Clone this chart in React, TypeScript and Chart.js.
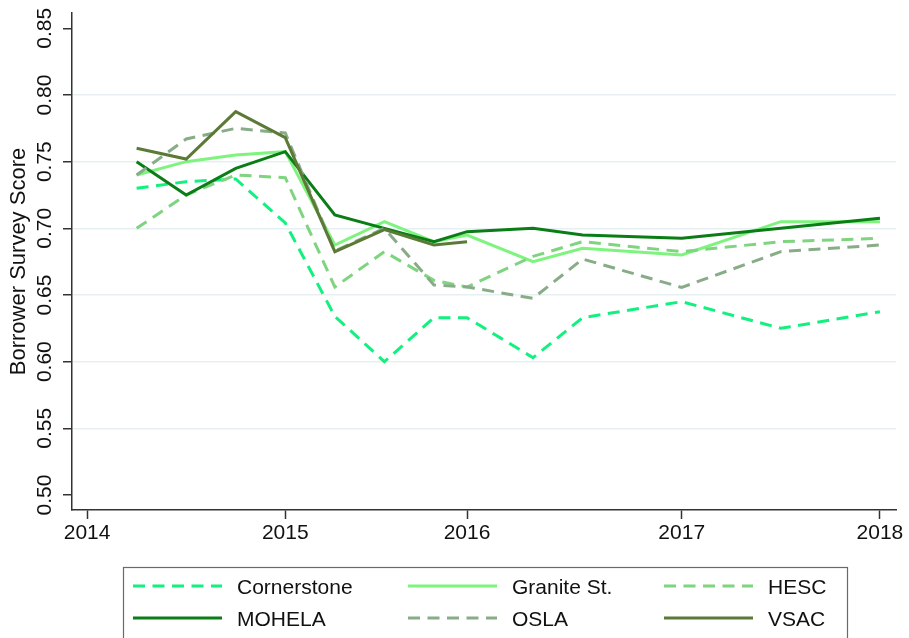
import React, { useEffect, useRef } from 'react';
import { Chart, registerables } from 'chart.js';

Chart.register(...registerables);

// ---- data ----
const xValues = [2014.25, 2014.5, 2014.75, 2015.0, 2015.25, 2015.5, 2015.75, 2015.917, 2016.25, 2016.5, 2017.0, 2017.5, 2018.0];
const xTickValues = [2014, 2015, 2015.917, 2017, 2018];
const xTickLabels = ['2014', '2015', '2016', '2017', '2018'];
const yTickValues = [0.5, 0.55, 0.6, 0.65, 0.7, 0.75, 0.8, 0.85];

const seriesLabels = ['Cornerstone', 'Granite St.', 'HESC', 'MOHELA', 'OSLA', 'VSAC'];
const cornerstone = [0.730, 0.735, 0.737, 0.704, 0.634, 0.600, 0.633, 0.633, 0.603, 0.633, 0.645, 0.625, 0.6375];
const graniteSt = [0.740, 0.750, 0.755, 0.7575, 0.6875, 0.705, 0.690, 0.695, 0.675, 0.685, 0.680, 0.705, 0.705];
const hesc = [0.700, 0.725, 0.740, 0.738, 0.656, 0.6825, 0.661, 0.656, 0.679, 0.690, 0.6825, 0.690, 0.6925];
const mohela = [0.750, 0.725, 0.745, 0.7575, 0.710, 0.700, 0.690, 0.6975, 0.700, 0.695, 0.6925, 0.700, 0.7075];
const osla = [0.740, 0.767, 0.775, 0.7715, 0.683, 0.700, 0.6575, 0.656, 0.6475, 0.677, 0.6557, 0.6825, 0.6875];
const vsac = [0.760, 0.752, 0.7875, 0.768, 0.6825, 0.699, 0.6875, 0.690, null, null, null, null, null];

const seriesValues = [cornerstone, graniteSt, hesc, mohela, osla, vsac];

// ---- styles ----
const seriesColors = ['#12F07F', '#7EF47E', '#7FD47F', '#0B7D16', '#88AC88', '#5B7A36'];
const seriesDashes: number[][] = [[12, 7.5], [], [12, 7.5], [], [12, 7.5], []];
const FONT = '"Liberation Sans", Arial, Helvetica, sans-serif';

const legendPlugin = {
  id: 'stataLegend',
  afterDraw(chart: any) {
    const ctx = chart.ctx as CanvasRenderingContext2D;
    ctx.save();
    ctx.strokeStyle = '#6a6a6a';
    ctx.lineWidth = 1.2;
    ctx.strokeRect(123.5, 567.5, 724, 100);
    const cols = [133, 408, 664];
    const rows = [586, 618];
    chart.data.datasets.forEach((ds: any, i: number) => {
      const cx = cols[i % 3];
      const cy = rows[Math.floor(i / 3)];
      ctx.beginPath();
      ctx.setLineDash(ds.borderDash || []);
      ctx.strokeStyle = ds.borderColor;
      ctx.lineWidth = 3;
      ctx.moveTo(cx, cy);
      ctx.lineTo(cx + 89, cy);
      ctx.stroke();
      ctx.setLineDash([]);
      ctx.fillStyle = '#111';
      ctx.font = '21px ' + FONT;
      ctx.textBaseline = 'middle';
      ctx.textAlign = 'left';
      ctx.fillText(ds.label, cx + 104, cy + 2.5);
    });
    ctx.restore();
  },
};

const bgPlugin = {
  id: 'bg',
  beforeDraw(chart: any) {
    const ctx = chart.ctx;
    ctx.save();
    ctx.fillStyle = '#ffffff';
    ctx.fillRect(0, 0, chart.width, chart.height);
    ctx.restore();
  },
};

export default function App() {
  const ref = useRef<HTMLCanvasElement | null>(null);

  useEffect(() => {
    if (!ref.current) return;
    const n = seriesLabels.length;
    const datasets = seriesLabels.map((label, i) => ({
      label,
      data: xValues.map((x, j) => ({ x, y: seriesValues[i][j] })),
      borderColor: seriesColors[i],
      backgroundColor: seriesColors[i],
      borderDash: seriesDashes[i],
      borderWidth: 3,
      pointRadius: 0,
      tension: 0,
      spanGaps: false,
      fill: false,
      order: n - 1 - i,
    }));

    const chart = new Chart(ref.current, {
      type: 'line',
      data: { datasets },
      plugins: [bgPlugin, legendPlugin],
      options: {
        animation: false,
        responsive: false,
        devicePixelRatio: 1,
        layout: { padding: { left: 0, top: 13, right: 13, bottom: 78 } },
        plugins: {
          legend: { display: false },
          tooltip: { enabled: false },
        },
        scales: {
          x: {
            type: 'linear',
            min: 2013.924,
            max: 2018.081,
            afterBuildTicks: (scale: any) => {
              scale.ticks = xTickValues.map((v) => ({ value: v }));
            },
            afterFit: (scale: any) => {
              scale.height = 50;
              scale.paddingLeft = 0;
              scale.paddingRight = 0;
            },
            border: { display: true, color: '#333', width: 1.5 },
            grid: {
              drawOnChartArea: false,
              drawTicks: true,
              tickLength: 9,
              tickColor: '#333',
              tickWidth: 1.5,
            },
            ticks: {
              autoSkip: false,
              maxRotation: 0,
              minRotation: 0,
              padding: 2,
              color: '#111',
              font: { size: 21, family: FONT },
              callback: (_v: any, i: number) => xTickLabels[i],
            },
          },
          y: {
            type: 'linear',
            min: 0.48875,
            max: 0.8615,
            afterBuildTicks: (scale: any) => {
              scale.ticks = yTickValues.map((v) => ({ value: v }));
            },
            afterFit: (scale: any) => {
              scale.width = 72;
              scale.paddingTop = 0;
              scale.paddingBottom = 0;
            },
            border: { display: true, color: '#333', width: 1.5 },
            grid: {
              drawOnChartArea: true,
              drawTicks: true,
              tickLength: 9,
              tickColor: '#333',
              tickWidth: 1.5,
              lineWidth: 1.5,
              color: (c: any) => {
                const v = c.tick ? c.tick.value : 0;
                return v > 0.51 && v < 0.84 ? '#e6eff2' : 'rgba(0,0,0,0)';
              },
            },
            ticks: {
              autoSkip: false,
              minRotation: 90,
              maxRotation: 90,
              crossAlign: 'center',
              padding: -3,
              color: '#111',
              font: { size: 21, family: FONT },
              callback: (v: any) => Number(v).toFixed(2),
            },
            title: {
              display: true,
              text: 'Borrower Survey Score',
              color: '#111',
              font: { size: 22, family: FONT },
              padding: { top: 6, bottom: 0 },
            },
          },
        },
      } as any,
    });
    return () => chart.destroy();
  }, []);

  return (
    <div style={{ position: 'fixed', left: 0, top: 0, width: 909, height: 638, background: '#fff' }}>
      <canvas ref={ref} width={909} height={638} style={{ width: 909, height: 638, display: 'block' }} />
    </div>
  );
}
